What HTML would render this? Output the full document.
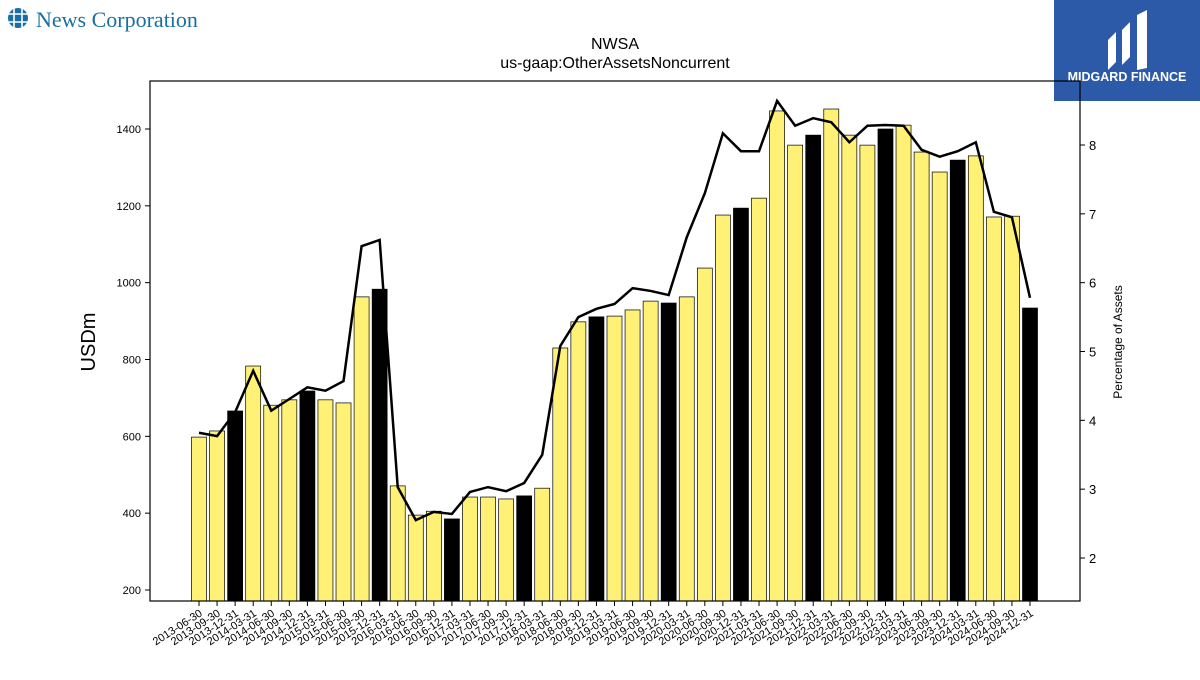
<!DOCTYPE html>
<html><head><meta charset="utf-8"><style>
body{margin:0;background:#fff;width:1200px;height:675px;overflow:hidden;font-family:"Liberation Sans","DejaVu Sans",sans-serif}
</style></head><body>
<svg id="c" width="1200" height="675" xmlns="http://www.w3.org/2000/svg">
<g>
<circle cx="18" cy="18" r="10" fill="#1a6fa0"/>
<path d="M8 14h20M8 22h20M14 8v20M22 8v20" stroke="#fff" stroke-width="1.6"/>
<text x="36" y="27" font-family="Liberation Serif,serif" font-size="22" fill="#1a6fa0">News Corporation</text>
</g>
<g>
<rect x="1054" y="0" width="146" height="101" fill="#2c5aa8"/>
<path d="M1108 70v-30l8-8v30z M1122 65v-35l8-8v35z M1137 70v-55l10-5v58z" fill="#fff"/>
<text x="1127" y="81" font-size="12.5" font-weight="bold" fill="#fff" text-anchor="middle">MIDGARD FINANCE</text>
</g>
<text x="615" y="49" font-size="16" text-anchor="middle">NWSA</text>
<text x="615" y="68" font-size="16" text-anchor="middle">us-gaap:OtherAssetsNoncurrent</text>
<text transform="translate(95,342) rotate(-90)" font-size="20" text-anchor="middle">USDm</text>
<text transform="translate(1122,342) rotate(-90)" font-size="12" text-anchor="middle">Percentage of Assets</text>
<g id="plot"></g>
</svg>
<script>
const labels=[];
const quarterEnds=["03-31","06-30","09-30","12-31"];
for(let y=2013,q=1;labels.length<47;){labels.push(y+"-"+quarterEnds[q]);q++;if(q>3){q=0;y++;}}
const values=[598,614,666,783,681,695,718,695,687,963,983,471,395,405,385,442,442,437,445,465,830,898,911,913,929,952,947,963,1038,1176,1194,1220,1447,1358,1384,1452,1384,1358,1400,1410,1340,1288,1319,1330,1171,1173,934];
const pct=[3.82,3.77,4.12,4.72,4.14,4.31,4.48,4.43,4.57,6.53,6.62,3.03,2.55,2.67,2.64,2.96,3.03,2.97,3.09,3.50,5.08,5.50,5.62,5.69,5.92,5.88,5.82,6.66,7.30,8.17,7.91,7.91,8.64,8.28,8.39,8.33,8.04,8.28,8.29,8.28,7.93,7.83,7.91,8.04,7.03,6.95,5.78];
const leftTicks=[200,400,600,800,1000,1200,1400];
const rightTicks=[2,3,4,5,6,7,8];
const NS="http://www.w3.org/2000/svg";
const g=document.getElementById('plot');
const L=150,R=1080,T=81,B=601;
const y=v=>590-(v-200)*461/1200;
const y2=v=>145+(8-v)*413/6;
const x=i=>199+i*(1030-199)/46;
function mk(t,a){const e=document.createElementNS(NS,t);for(const k in a)e.setAttribute(k,a[k]);g.appendChild(e);return e;}
values.forEach((v,i)=>{const r=mk('rect',{x:x(i)-7.5,y:y(v),width:15,height:B-y(v),fill:i%4==2?'#000':'#fff176',stroke:'#000','stroke-width':0.7});

});
const p=mk('polyline',{points:pct.map((v,i)=>x(i)+','+y2(v)).join(' '),fill:'none',stroke:'#000','stroke-width':2.5});


const f=mk('rect',{x:L,y:T,width:R-L,height:B-T,fill:'none',stroke:'#000','stroke-width':1.2});


leftTicks.forEach(v=>{mk('line',{x1:L-5,x2:L,y1:y(v),y2:y(v),stroke:'#000'});
const t=mk('text',{x:L-9,y:y(v)+4,'font-size':11,'text-anchor':'end'});t.textContent=v;

});
rightTicks.forEach(v=>{mk('line',{x1:R,x2:R+5,y1:y2(v),y2:y2(v),stroke:'#000'});
const t=mk('text',{x:R+9,y:y2(v)+5,'font-size':13});t.textContent=v;

});
labels.forEach((l,i)=>{mk('line',{x1:x(i),x2:x(i),y1:B,y2:B+5,stroke:'#000'});
const t=mk('text',{transform:`translate(${x(i)+4},${B+14}) rotate(-33)`,'font-size':11,'text-anchor':'end'});t.textContent=l;

});
</script>
</body></html>
